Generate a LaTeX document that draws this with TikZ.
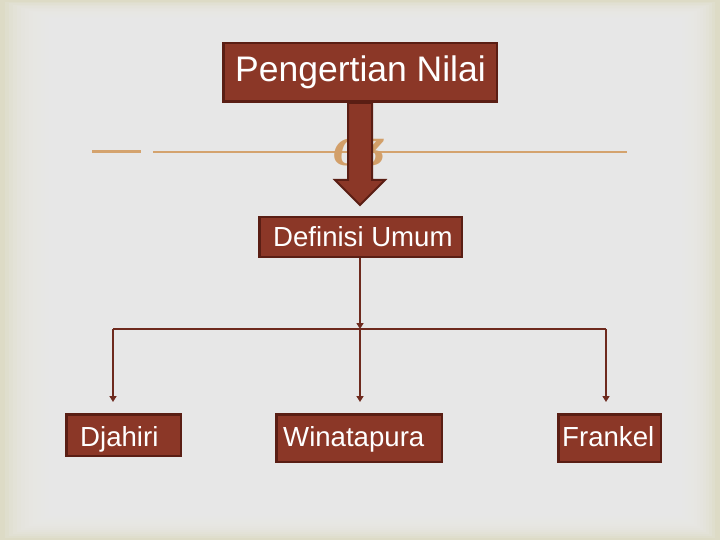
\documentclass[tikz,border=0pt]{standalone}
\usepackage{fontspec}
\setmainfont{Liberation Sans}
\newfontfamily\ornfont{DejaVu Serif}
\usetikzlibrary{arrows.meta}
\definecolor{bgbeige}{HTML}{DDDBC6}
\definecolor{bggray}{HTML}{EBEBEB}
\definecolor{boxfill}{HTML}{8B3727}
\definecolor{boxline}{HTML}{5A1E14}
\definecolor{conn}{HTML}{6E2A1E}
\definecolor{tan}{HTML}{D4A36E}
\tikzset{
  brownbox/.style={draw=boxline, line width=2.5pt, fill=boxfill, inner sep=0pt, rectangle},
  boxtext/.style={text=white, inner sep=0pt, anchor=base west},
  connector/.style={draw=conn, line width=1.8pt, -{Triangle[length=6pt,width=7pt]}},
  plainconn/.style={draw=conn, line width=1.8pt},
}
\begin{document}
\begin{tikzpicture}[x=1pt,y=-1pt]
\useasboundingbox (0,0) rectangle (720,540);
% background vignette
\fill[bgbeige] (0,0) rectangle (720,540);
\foreach \i in {0,...,19}{
  \fill[bggray, opacity=0.2] (5+4*\i, 2+1.5*\i) rectangle (715-3*\i, 538-2*\i);
}
% orange rule and ornament
\draw[tan, line width=2.5pt] (92,151.5) -- (141,151.5);
\draw[tan, line width=2.5pt] (153,152) -- (627,152);
\node[text=tan!90!brown, font=\ornfont\fontsize{36}{36}\selectfont\bfseries\itshape, inner sep=0pt] (orn) at (360,152) {CƷ};
% boxes
\node[brownbox, minimum width=273.5pt, minimum height=58.5pt] (top) at (360,72.5) {};
\node[brownbox, minimum width=202.5pt, minimum height=39.5pt] (def) at (360.5,237) {};
\node[brownbox, minimum width=114.5pt, minimum height=41.5pt] (dja) at (123.5,435) {};
\node[brownbox, minimum width=165.5pt, minimum height=47.5pt] (win) at (359,438) {};
\node[brownbox, minimum width=102.5pt, minimum height=47.5pt] (fra) at (609.5,438) {};
% texts
\node[boxtext, font=\fontsize{35.5}{36}\selectfont] (ttop) at (235,82) {Pengertian Nilai};
\node[boxtext, font=\fontsize{27.6}{28}\selectfont] (tdef) at (273,246) {Definisi Umum};
\node[boxtext, font=\fontsize{27.6}{28}\selectfont] (tdja) at (80,446) {Djahiri};
\node[boxtext, font=\fontsize{27.6}{28}\selectfont] (twin) at (283,446) {Winatapura};
\node[boxtext, font=\fontsize{27.6}{28}\selectfont] (tfra) at (562,446) {Frankel};
% block arrow
\coordinate (as) at (top.south);
\filldraw[fill=boxfill, draw=boxline, line width=2pt, line join=miter]
  (as) ++(-12,0) -- ++(24,0) -- ++(0,77) -- ++(13,0) -- ++(-25,25) -- ++(-25,-25) -- ++(13,0) -- cycle;
% connectors
\coordinate (bus) at (360,329);
\coordinate (busL) at (113,329);
\coordinate (busR) at (606,329);
\draw[connector] (def.south -| bus) -- (bus);
\draw[plainconn] (busL) -- (busR);
\draw[connector, shorten >=11pt] (busL) -- (busL |- dja.north);
\draw[connector, shorten >=11pt] (bus) -- (bus |- win.north);
\draw[connector, shorten >=11pt] (busR) -- (busR |- fra.north);
\end{tikzpicture}
\end{document}
